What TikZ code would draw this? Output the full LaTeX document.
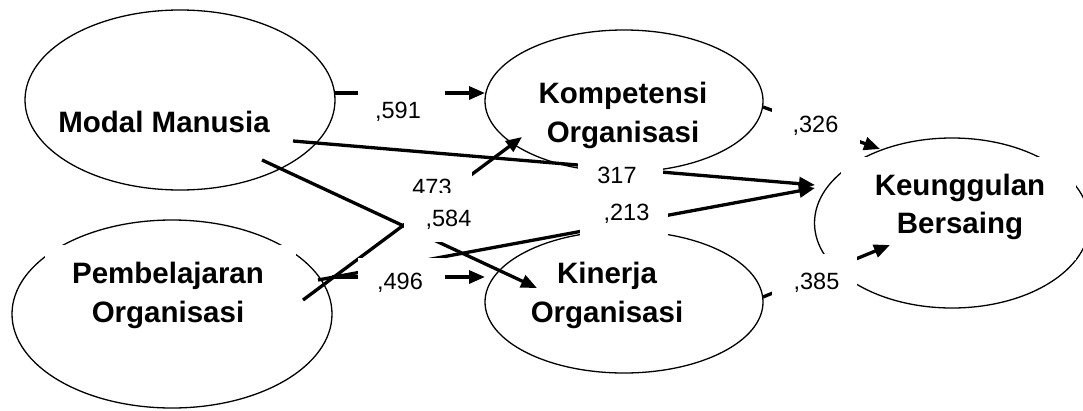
\documentclass[tikz,border=0pt]{standalone}
\usepackage{fontspec}
\setmainfont{Liberation Sans}
\usetikzlibrary{shapes.geometric,arrows.meta}

\begin{document}
\begin{tikzpicture}[x=1pt,y=-1pt,
  latent/.style={ellipse,draw,line width=1.3pt,inner sep=0pt,outer sep=0pt},
  mask/.style={fill=white,inner sep=0pt,outer sep=0pt,anchor=north west},
  lvname/.style={font=\fontsize{29.5}{39}\selectfont\bfseries,anchor=base,inner sep=0pt},
  coef/.style={font=\fontsize{23.5}{25}\selectfont,anchor=base,inner sep=0pt},
  effect/.style={line width=3.3pt,-{Triangle[length=16pt,width=13pt]}},
]
\useasboundingbox (0,0) rectangle (1083,410);

% latent variables
\node[latent,minimum width=310pt,minimum height=180pt] (mm) at (180,100) {};
\node[latent,minimum width=320pt,minimum height=188pt] (po) at (172,314) {};
\node[latent,minimum width=278pt,minimum height=142pt] (ko) at (624,101) {};
\node[latent,minimum width=278pt,minimum height=142pt] (ki) at (624,302) {};
\node[latent,minimum width=275pt,minimum height=170pt] (kb) at (952,223) {};

% white text frames lying on the ellipses
\node[mask,minimum width=251pt,minimum height=95pt] (po-frame) at (45,245) {};
\node[mask,minimum width=235pt,minimum height=103pt] (kb-frame) at (841,157) {};

% variable names
\node[lvname] (mm-l1) at (164,132) {Modal Manusia};
\node[lvname] (po-l1) at (168,283) {Pembelajaran};
\node[lvname] (po-l2) at (168,322) {Organisasi};
\node[lvname] (ko-l1) at (623,103) {Kompetensi};
\node[lvname] (ko-l2) at (623,142) {Organisasi};
\node[lvname] (ki-l1) at (607,283) {Kinerja};
\node[lvname] (ki-l2) at (607,322) {Organisasi};
\node[lvname] (kb-l1) at (960,195) {Keunggulan};
\node[lvname] (kb-l2) at (960,233) {Bersaing};

% path end points
\coordinate (mm-ko-s) at (335,93);
\coordinate (mm-ko-e) at (485,93);
\coordinate (mm-kb-s) at (293,141);
\coordinate (mm-kb-e) at (815,185);
\coordinate (mm-ki-s) at (262,160);
\coordinate (mm-ki-e) at (537,288);
\coordinate (po-ko-s) at (303,300);
\coordinate (po-ko-e) at (522,137);
\coordinate (po-kb-s) at (318,280);
\coordinate (po-kb-e) at (815,188);
\coordinate (po-ki-s) at (332,277);
\coordinate (po-ki-e) at (485,277);
\coordinate (ko-kb-s) at (763,107);
\coordinate (ko-kb-e) at (880,149);
\coordinate (ki-kb-s) at (763,297);
\coordinate (ki-kb-e) at (890,245);

% structural paths
\draw[effect] (mm-ko-s) -- (mm-ko-e);
\draw[effect] (mm-kb-s) -- (mm-kb-e);
\draw[effect] (mm-ki-s) -- (mm-ki-e);
\draw[effect] (po-ko-s) -- (po-ko-e);
\draw[effect] (po-kb-s) -- (po-kb-e);
\draw[effect] (po-ki-s) -- (po-ki-e);
\draw[effect] (ko-kb-s) -- (ko-kb-e);
\draw[effect] (ki-kb-s) -- (ki-kb-e);

% path coefficients in white frames
\node[mask,minimum width=87pt,minimum height=50pt] (b591) at (358,80) {};
\node[coef] (c591) at (398,118) {,591};
\node[mask,minimum width=87pt,minimum height=42pt] (b496) at (358,258) {};
\node[coef] (c496) at (400,289) {,496};
\node[mask,minimum width=74pt,minimum height=34pt] (b473) at (398,166) {};
\node[coef] (c473) at (432,195.5) {473};
\node[mask,minimum width=90pt,minimum height=49pt] (b584) at (404,193) {};
\node[coef] (c584) at (448.5,226) {,584};
\node[mask,minimum width=85pt,minimum height=34pt] (b317) at (578,156) {};
\node[coef] (c317) at (617,183) {317};
\node[mask,minimum width=88pt,minimum height=46pt] (b213) at (580,190) {};
\node[coef] (c213) at (626.5,220) {,213};
\node[mask,minimum width=88pt,minimum height=52pt] (b326) at (772,98) {};
\node[coef] (c326) at (815.5,132) {,326};
\node[mask,minimum width=85pt,minimum height=51pt] (b385) at (772,254) {};
\node[coef] (c385) at (816.5,289) {,385};
\end{tikzpicture}
\end{document}
